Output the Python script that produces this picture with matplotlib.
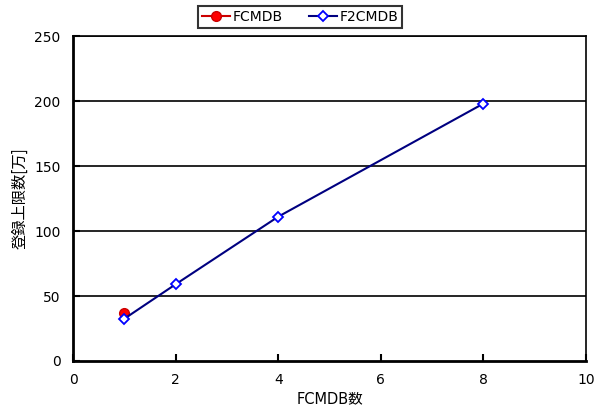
import matplotlib
matplotlib.use("Agg")
import matplotlib.pyplot as plt

plt.rcParams['font.family'] = ['DejaVu Sans', 'Noto Sans CJK JP']

fc_x = [1]
fc_y = [37]
f2_x = [1, 2, 4, 8]
f2_y = [32.5, 59, 111, 198]
x_ticks = [0, 2, 4, 6, 8, 10]
y_ticks = [0, 50, 100, 150, 200, 250]

fig = plt.figure(figsize=(5.95, 4.12), dpi=100)
ax = fig.add_axes([73/595, 1-361/412, (586-73)/595, (361-36)/412])

ax.set_xlim(0, 10)
ax.set_ylim(0, 250)
ax.set_xticks(x_ticks)
ax.set_yticks(y_ticks)
for y in y_ticks[1:]:
    ax.axhline(y, color='black', lw=1.2, zorder=1)

ax.plot(fc_x, fc_y, color='#cc0000', marker='o', markersize=7,
        markerfacecolor='#ff0000', markeredgecolor='#cc0000', lw=1.5, zorder=3, label='FCMDB')
ax.plot(f2_x, f2_y, color='#000080', marker='D', markersize=5.5,
        markerfacecolor='white', markeredgecolor='#0000ff', markeredgewidth=1.3,
        lw=1.5, zorder=4, label='F2CMDB')

for s in ['left', 'bottom']:
    ax.spines[s].set_linewidth(2)
for s in ['top', 'right']:
    ax.spines[s].set_linewidth(1.2)

ax.tick_params(axis='both', direction='in', length=5, width=1.5, labelsize=10, pad=9)
ax.set_xlabel('FCMDB数', fontsize=10.5, labelpad=3,
              family=['DejaVu Sans', 'Noto Sans CJK JP'])
ax.set_ylabel('登録上限数[万]', fontsize=11, labelpad=4,
              family=['Noto Sans CJK JP', 'DejaVu Sans'])

leg = fig.legend(loc='center', bbox_to_anchor=(300/595, 1-17/412), ncol=2,
                 frameon=True, fancybox=False, edgecolor='black', fontsize=10,
                 handlelength=2.0, handletextpad=0.2, columnspacing=1.9,
                 borderpad=0.3)
leg.get_frame().set_linewidth(1.5)

fig.savefig('out.png', dpi=100)
